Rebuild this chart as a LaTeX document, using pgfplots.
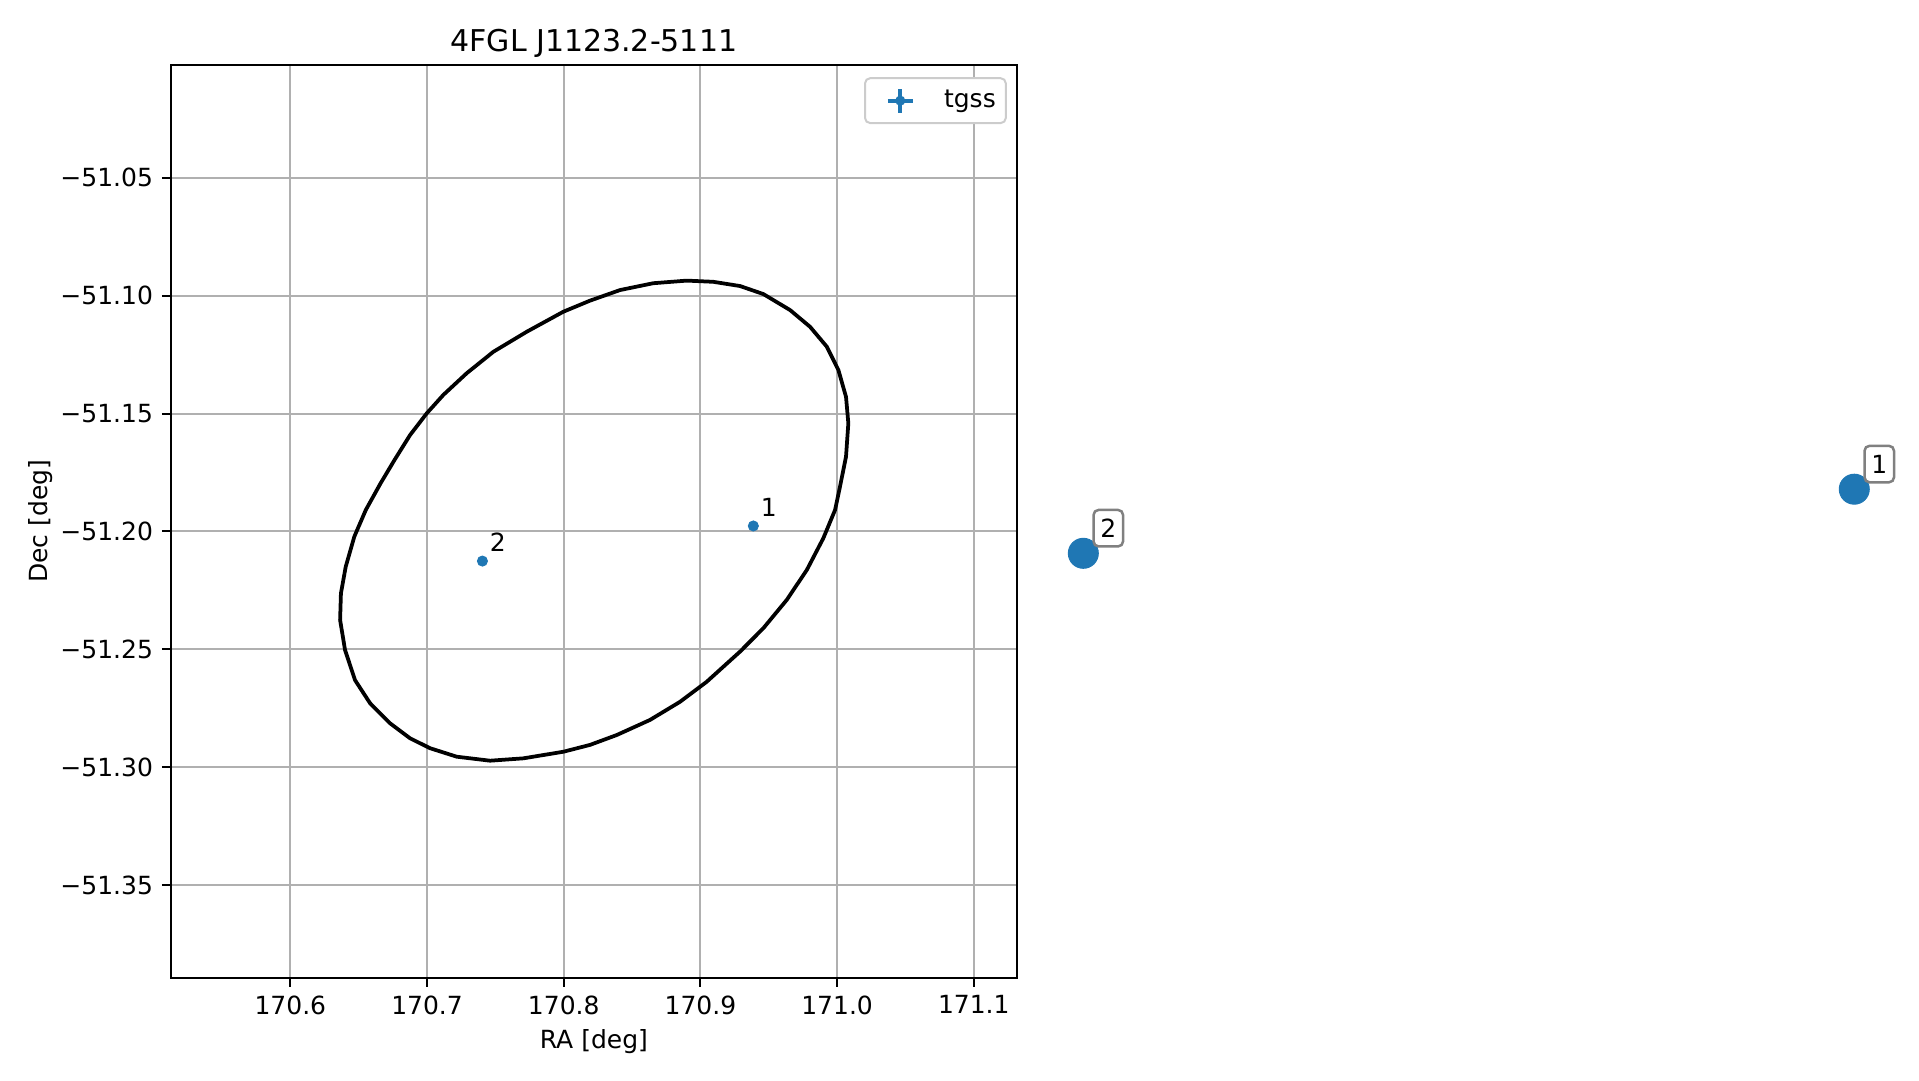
\documentclass[border=0pt]{standalone}
\usepackage{pgfplots}
\pgfplotsset{compat=1.18}
\usepackage{pgfplotstable}
\usepackage{fontspec}
\setmainfont{DejaVu Sans}
\definecolor{mplblue}{HTML}{1F77B4}
\definecolor{gridgray}{HTML}{B0B0B0}
\definecolor{legframe}{HTML}{CCCCCC}

\pgfplotstableread{
x y
170.8900 -51.0936
170.8655 -51.0947
170.8412 -51.0976
170.8192 -51.1021
170.7997 -51.1068
170.7729 -51.1153
170.7485 -51.1238
170.7290 -51.1329
170.7119 -51.1421
170.6998 -51.1499
170.6876 -51.1591
170.6762 -51.1697
170.6660 -51.1796
170.6552 -51.1909
170.6468 -51.2022
170.6405 -51.2150
170.6370 -51.2263
170.6364 -51.2376
170.6400 -51.2503
170.6473 -51.2631
170.6583 -51.2729
170.6729 -51.2814
170.6876 -51.2878
170.7022 -51.2920
170.7217 -51.2956
170.7461 -51.2973
170.7704 -51.2963
170.7997 -51.2935
170.8192 -51.2906
170.8388 -51.2864
170.8631 -51.2800
170.8851 -51.2723
170.9046 -51.2638
170.9290 -51.2510
170.9460 -51.2411
170.9631 -51.2291
170.9778 -51.2164
170.9899 -51.2029
170.9985 -51.1909
171.0021 -51.1810
171.0065 -51.1683
171.0082 -51.1541
171.0065 -51.1429
171.0009 -51.1315
170.9924 -51.1216
170.9802 -51.1132
170.9656 -51.1061
170.9460 -51.0993
170.9290 -51.0959
170.9094 -51.0941
170.8900 -51.0936
}\ellipsetable

\pgfplotstableread{
x y label
170.9387 -51.1977 1
170.7405 -51.2126 2
}\tgsstable

\pgfplotstableread{
x y label
171.7441 -51.1821 1
171.1801 -51.2093 2
}\bigtable

\begin{document}
\begin{tikzpicture}
\path[use as bounding box] (-68.3pt,-40.9pt) rectangle (699.3pt,391.1pt);
\begin{axis}[
  at={(0pt,0pt)}, anchor=south west,
  scale only axis, width=338.5pt, height=365.2pt,
  xmin=170.5125, xmax=171.1316, ymin=-51.3894, ymax=-51.0020,
  clip=false,
  font=\fontsize{10}{12}\selectfont,
  axis line style={line width=0.8pt},
  xtick={170.6,170.7,170.8,170.9,171.0,171.1},
  xticklabels={170.6,170.7,170.8,170.9,171.0,171.1},
  ytick={-51.35,-51.30,-51.25,-51.20,-51.15,-51.10,-51.05},
  yticklabels={−51.35,−51.30,−51.25,−51.20,−51.15,−51.10,−51.05},
  xtick pos=bottom, ytick pos=left,
  tick align=outside, major tick length=3.6pt,
  tick style={black, line width=0.8pt},
  grid=major, major grid style={gridgray, line width=0.8pt},
  title={4FGL J1123.2-5111},
  every axis title shift=0pt,
  title style={at={(axis description cs:0.5,1.0145)}, anchor=base, yshift=0pt, font=\fontsize{12}{14}\selectfont},
  xlabel={RA [deg]},
  xlabel style={at={(axis description cs:0.5,-0.0698)}, anchor=center},
  ylabel={Dec [deg]},
  ylabel style={at={(axis description cs:-0.154,0.5)}, anchor=center, rotate=0},
  legend style={at={(axis description cs:1,1)}, anchor=north east, xshift=-4.1pt, yshift=-5pt,
    draw=legframe, line width=0.8pt, rounded corners=2pt, inner xsep=2pt, inner ysep=2.7pt,
    font=\fontsize{10}{12}\selectfont},
]
\addplot[black, line width=1.5pt, forget plot] table[x=x,y=y]{\ellipsetable};

\addplot[only marks, mark=*, mark size=2pt, mplblue, mark options={draw=mplblue, fill=mplblue},
  nodes near coords, point meta=explicit symbolic,
  nodes near coords style={anchor=south west, inner sep=0pt, xshift=2.8pt, yshift=3.7pt, text=black, font=\fontsize{10}{12}\selectfont},
  legend image code/.code={
    \path[draw=none, fill=none] (0pt,-5pt) rectangle (27.6pt,5pt);
    \draw[mplblue, line width=1.5pt] (7.1pt,0pt)--(17.1pt,0pt) (12.1pt,-4.8pt)--(12.1pt,4.8pt);
    \fill[mplblue] (12.1pt,0pt) circle (1.6pt);
  }]
  table[x=x,y=y,meta=label]{\tgsstable};
\addlegendentry{tgss}

\addplot[only marks, mark=*, mark size=6pt, mplblue, mark options={draw=mplblue, fill=mplblue}, forget plot,
  nodes near coords, point meta=explicit symbolic,
  nodes near coords style={anchor=south west, inner sep=0pt, xshift=3.6pt, yshift=2.25pt,
    draw={rgb,255:red,128;green,128;blue,128}, line width=1pt, fill=white, rounded corners=2pt,
    minimum width=11.8pt, minimum height=14.6pt, text=black, font=\fontsize{10}{12}\selectfont}]
  table[x=x,y=y,meta=label]{\bigtable};
\end{axis}
\end{tikzpicture}
\end{document}
